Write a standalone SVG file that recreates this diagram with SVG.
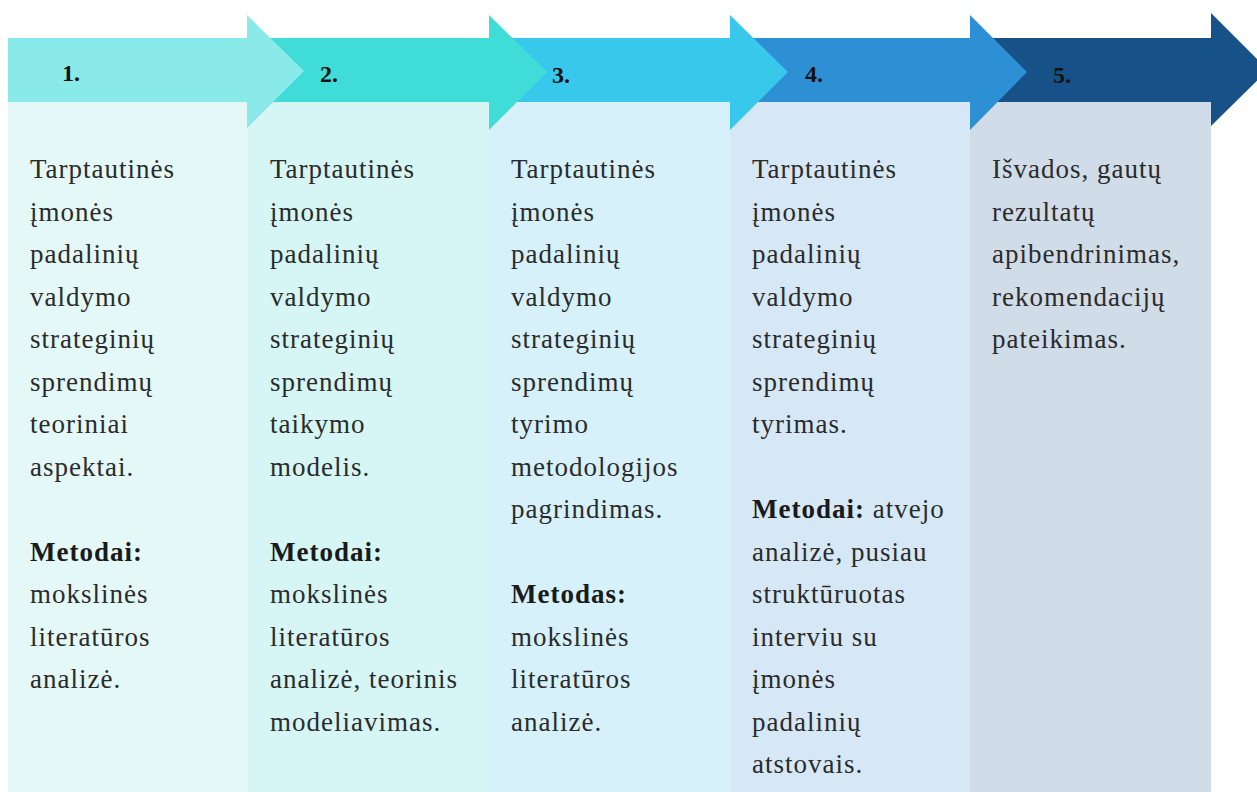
<svg xmlns="http://www.w3.org/2000/svg" width="1257" height="792" viewBox="0 0 1257 792">
<style>
.t{font-family:"Liberation Serif","Times New Roman",serif;font-size:27px;letter-spacing:1px;fill:#2b2b2b}
.b{font-weight:bold;fill:#1a1a1a}
.n{font-family:"Liberation Serif","Times New Roman",serif;font-size:24px;font-weight:bold;fill:#111}
</style>
<rect width="1257" height="792" fill="#ffffff"/>
<g id="columns">
<rect x="8" y="102" width="240" height="690" fill="#e4f8f8"/>
<rect x="248" y="102" width="241" height="690" fill="#d6f5f5"/>
<rect x="489" y="102" width="241" height="690" fill="#d6f1fa"/>
<rect x="730" y="102" width="240" height="690" fill="#d6e8f6"/>
<rect x="970" y="102" width="241" height="690" fill="#d0dce8"/>
</g>
<g id="connectors">
<polygon id="arrow5" points="970,38 1211,38 1211,13 1268,70 1211,126 1211,102 970,102" fill="#165288"/>
<polygon id="arrow4" points="730,38 970,38 970,15 1027,72 970,130 970,102 730,102" fill="#2e90d4"/>
<polygon id="arrow3" points="489,38 730,38 730,15 788,72 730,130 730,102 489,102" fill="#38c8ec"/>
<polygon id="arrow2" points="248,38 489,38 489,15 547,72 489,130 489,102 248,102" fill="#40dcd8"/>
<polygon id="arrow1" points="8,38 247,38 247,15 304,71 247,128 247,102 8,102" fill="#8aeaea"/>
</g>
<g id="step1">
<text class="n" x="62" y="81">1.</text>
<text class="t"><tspan x="30" y="178">Tarptautinės</tspan><tspan x="30" y="220.5">įmonės</tspan><tspan x="30" y="263">padalinių</tspan><tspan x="30" y="305.5">valdymo</tspan><tspan x="30" y="348">strateginių</tspan><tspan x="30" y="390.5">sprendimų</tspan><tspan x="30" y="433">teoriniai</tspan><tspan x="30" y="475.5">aspektai.</tspan><tspan x="30" y="560.5" class="b">Metodai:</tspan><tspan x="30" y="603">mokslinės</tspan><tspan x="30" y="645.5">literatūros</tspan><tspan x="30" y="688">analizė.</tspan></text>
</g>
<g id="step2">
<text class="n" x="320" y="82">2.</text>
<text class="t"><tspan x="270" y="178">Tarptautinės</tspan><tspan x="270" y="220.5">įmonės</tspan><tspan x="270" y="263">padalinių</tspan><tspan x="270" y="305.5">valdymo</tspan><tspan x="270" y="348">strateginių</tspan><tspan x="270" y="390.5">sprendimų</tspan><tspan x="270" y="433">taikymo</tspan><tspan x="270" y="475.5">modelis.</tspan><tspan x="270" y="560.5" class="b">Metodai:</tspan><tspan x="270" y="603">mokslinės</tspan><tspan x="270" y="645.5">literatūros</tspan><tspan x="270" y="688">analizė, teorinis</tspan><tspan x="270" y="730.5">modeliavimas.</tspan></text>
</g>
<g id="step3">
<text class="n" x="552" y="83">3.</text>
<text class="t"><tspan x="511" y="178">Tarptautinės</tspan><tspan x="511" y="220.5">įmonės</tspan><tspan x="511" y="263">padalinių</tspan><tspan x="511" y="305.5">valdymo</tspan><tspan x="511" y="348">strateginių</tspan><tspan x="511" y="390.5">sprendimų</tspan><tspan x="511" y="433">tyrimo</tspan><tspan x="511" y="475.5">metodologijos</tspan><tspan x="511" y="518">pagrindimas.</tspan><tspan x="511" y="603" class="b">Metodas:</tspan><tspan x="511" y="645.5">mokslinės</tspan><tspan x="511" y="688">literatūros</tspan><tspan x="511" y="730.5">analizė.</tspan></text>
</g>
<g id="step4">
<text class="n" x="805" y="82">4.</text>
<text class="t"><tspan x="752" y="178">Tarptautinės</tspan><tspan x="752" y="220.5">įmonės</tspan><tspan x="752" y="263">padalinių</tspan><tspan x="752" y="305.5">valdymo</tspan><tspan x="752" y="348">strateginių</tspan><tspan x="752" y="390.5">sprendimų</tspan><tspan x="752" y="433">tyrimas.</tspan><tspan x="752" y="518" class="b">Metodai:</tspan><tspan> atvejo</tspan><tspan x="752" y="560.5">analizė, pusiau</tspan><tspan x="752" y="603">struktūruotas</tspan><tspan x="752" y="645.5">interviu su</tspan><tspan x="752" y="688">įmonės</tspan><tspan x="752" y="730.5">padalinių</tspan><tspan x="752" y="773">atstovais.</tspan></text>
</g>
<g id="step5">
<text class="n" x="1053" y="83">5.</text>
<text class="t"><tspan x="992" y="178">Išvados, gautų</tspan><tspan x="992" y="220.5">rezultatų</tspan><tspan x="992" y="263">apibendrinimas,</tspan><tspan x="992" y="305.5">rekomendacijų</tspan><tspan x="992" y="348">pateikimas.</tspan></text>
</g>
</svg>
